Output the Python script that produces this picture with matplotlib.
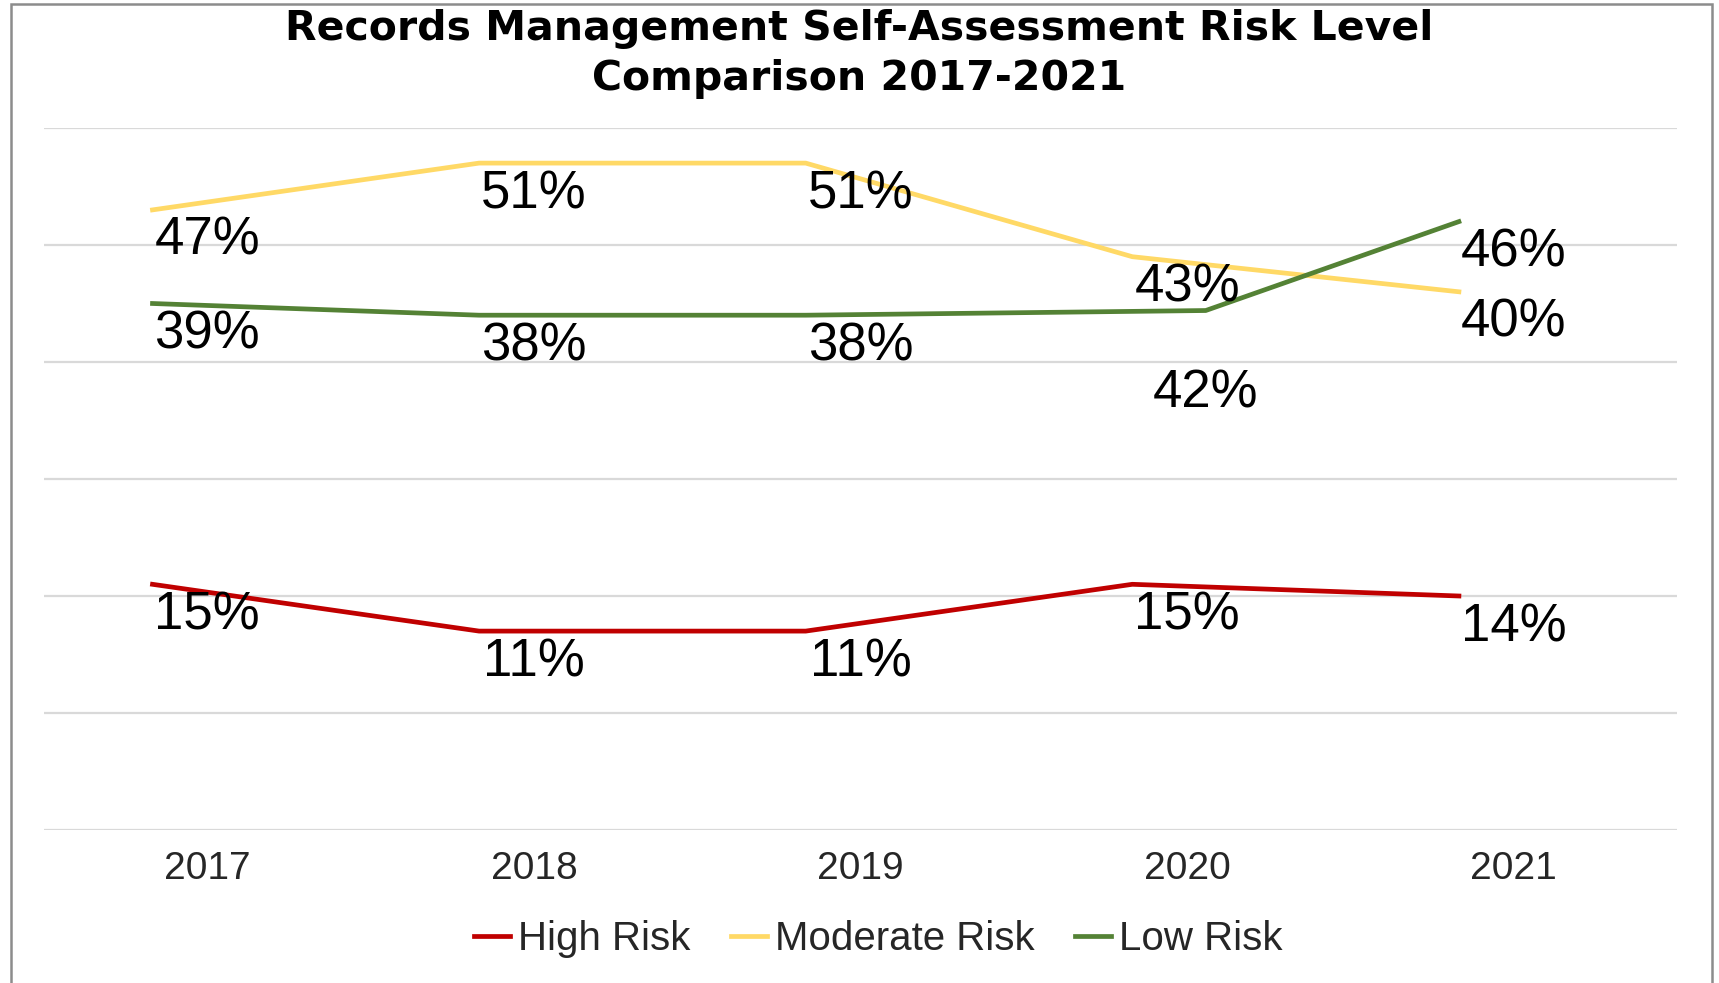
import matplotlib
matplotlib.use("Agg")
import matplotlib.pyplot as plt
from matplotlib.patches import Rectangle

plt.rcParams['font.family'] = ['Liberation Sans', 'DejaVu Sans']

years = ['2017', '2018', '2019', '2020', '2021']

# plotted levels (axis runs -6..54, gridlines every 10)
high_risk = [15, 11, 11, 15, 14]
moderate_risk = [47, 51, 51, 43, 40]
low_risk = [39, 38, 38, 38.4, 46]

high_labels = ['15%', '11%', '11%', '15%', '14%']
moderate_labels = ['47%', '51%', '51%', '43%', '40%']
low_labels = ['39%', '38%', '38%', '42%', '46%']

red = '#C00000'
gold = '#FFD966'
green = '#548235'

fig = plt.figure(figsize=(17.19, 9.83), dpi=100)
ax = fig.add_axes([44 / 1719, 1 - 830 / 983, (1677 - 44) / 1719, (830 - 128) / 983])

# lines sit a bit left of the category centres, as in the source chart
shift = -50 / 298
x_pts = [i + shift for i in range(len(years))]
x_low = [i + shift for i in range(len(years))]
x_low[3] = 3 + 17 / 298

ax.plot(x_pts, high_risk, color=red, lw=3.4, label='High Risk')
ax.plot(x_pts, moderate_risk, color=gold, lw=3.4, label='Moderate Risk')
ax.plot(x_low, low_risk, color=green, lw=3.4, label='Low Risk')

lbl_size = 38

def add_labels(xs, vals, labels, dy=-31):
    for x, v, s in zip(xs, vals, labels):
        ax.annotate(s, (x, v), xytext=(0, dy), textcoords='offset pixels',
                    ha='center', va='center', fontsize=lbl_size, color='#000000')

cats = list(range(len(years)))
add_labels(cats, high_risk, high_labels)
add_labels(cats, moderate_risk, moderate_labels)
# low risk: the 2020 label was pushed down below the line in the source
add_labels([0, 1, 2, 4], [low_risk[i] for i in (0, 1, 2, 4)],
           [low_labels[i] for i in (0, 1, 2, 4)])
add_labels([x_low[3]], [low_risk[3]], [low_labels[3]], dy=-83)

ax.set_xlim(-0.5, 4.5)
ax.set_ylim(-6, 54)
ax.set_yticks(range(-6, 55, 10))
ax.set_yticklabels([])
ax.set_xticks(cats)
ax.set_xticklabels(years, fontsize=28, color='#262626')
ax.tick_params(axis='both', length=0)
ax.tick_params(axis='x', pad=15)
ax.grid(axis='y', color='#D9D9D9', lw=1.6)
ax.set_axisbelow(True)
for sp in ax.spines.values():
    sp.set_visible(False)

title_font = ['DejaVu Sans']
fig.text(0.5, 1 - 29 / 983, 'Records Management Self-Assessment Risk Level',
         ha='center', va='center', fontsize=29.5, fontweight='bold', family=title_font)
fig.text(0.5, 1 - 79 / 983, 'Comparison 2017-2021',
         ha='center', va='center', fontsize=29.5, fontweight='bold', family=title_font)

fig.legend(loc='center', bbox_to_anchor=(0.511, 1 - 939 / 983), ncol=3, frameon=False,
           fontsize=29, handlelength=0.9, handletextpad=0.2, columnspacing=1.0,
           labelcolor='#262626')

# outer frame of the chart
fig.patches.append(Rectangle((11 / 1719, -0.05), (1712 - 11) / 1719, 1.05 - 4 / 983,
                             transform=fig.transFigure, fill=False,
                             edgecolor='#8C8C8C', lw=1.8))

fig.savefig('out.png', dpi=100, facecolor='white')
